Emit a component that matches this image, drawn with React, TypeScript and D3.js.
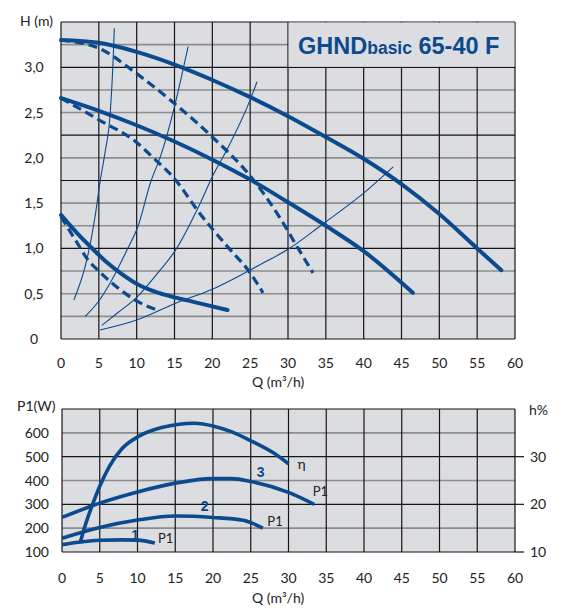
import * as d3 from 'd3';
import React, { useEffect, useRef } from 'react';

type Pt = [number, number];

// H (m) over Q (m3/h), one per speed
const speed3Solid: Pt[] = [[0, 3.3], [5, 3.27], [10, 3.17], [15, 3.03], [20, 2.86], [25, 2.67], [30, 2.46], [35, 2.23], [40, 1.99], [45, 1.71], [50, 1.38], [55, 1.0], [58.2, 0.76]];
const speed3Dashed: Pt[] = [[0, 3.3], [5, 3.21], [10, 2.93], [15, 2.6], [20, 2.23], [25, 1.8], [29, 1.33], [31.2, 1.02], [33.3, 0.73]];
const speed2Solid: Pt[] = [[0, 2.66], [5, 2.52], [10, 2.36], [15, 2.18], [20, 1.98], [25, 1.76], [30, 1.51], [35, 1.25], [40, 0.97], [46.5, 0.51]];
const speed2Dashed: Pt[] = [[0, 2.66], [5, 2.42], [10, 2.17], [12.2, 2.0], [15, 1.77], [18.4, 1.38], [22, 1.02], [25, 0.73], [26.7, 0.51]];
const speed1Solid: Pt[] = [[0, 1.37], [2, 1.18], [4, 1.01], [6, 0.85], [8, 0.72], [10, 0.61], [12.5, 0.52], [15, 0.46], [17.5, 0.41], [20, 0.36], [22, 0.32]];
const speed1Dashed: Pt[] = [[0, 1.35], [2, 1.08], [3.5, 0.88], [5, 0.75], [7, 0.6], [10, 0.42], [12.7, 0.32]];

// thin system curves
const sysA: Pt[] = [[1.7, 0.43], [3.4, 0.87], [4.5, 1.35], [5.15, 1.73], [5.8, 2.05], [6.5, 2.49], [6.85, 3.0], [7.05, 3.43]];
const sysB: Pt[] = [[3.2, 0.25], [5, 0.42], [6.9, 0.68], [8.7, 0.98], [10.2, 1.25], [11.8, 1.72], [13.2, 2.03], [15.1, 2.6], [16.8, 3.23]];
const sysC: Pt[] = [[5.4, 0.15], [7.5, 0.29], [10, 0.46], [12.5, 0.7], [15.2, 0.99], [18.4, 1.5], [20.1, 1.81], [21.8, 2.07], [25, 2.64], [25.9, 2.84]];
const sysD: Pt[] = [[5.15, 0.1], [10, 0.21], [15.3, 0.4], [20, 0.55], [26.3, 0.82], [30, 0.99], [34.6, 1.27], [40, 1.61], [43.9, 1.9]];

// P1 (W) and efficiency (%) over Q
const p1Speed3: Pt[] = [[0, 245], [5, 305], [10, 352], [15, 389], [20, 408], [22.5, 408], [25, 396], [30, 350], [33.4, 300]];
const p1Speed2: Pt[] = [[0, 158], [5, 203], [10, 234], [15, 251], [20, 245], [24, 233], [26.6, 200]];
const p1Speed1: Pt[] = [[0, 131], [2.7, 143], [5, 149], [8, 151], [10, 150], [12.3, 138]];
const eta: Pt[] = [[2.4, 11.9], [3.0, 15.2], [4.0, 19.8], [5.0, 23.8], [6.3, 28.0], [7.9, 31.6], [10.2, 34.3], [13.2, 36.1], [15.5, 36.8], [17.5, 37.0], [20.1, 36.4], [22.5, 35.2], [25.3, 33.1], [28, 30.8], [30, 28.5]];

const qTicks = d3.range(0, 61, 5);
const hGrid = d3.range(0, 3.51, 0.25);
const hDark = [0, 1, 1.75, 2.25, 3, 3.5];
const hTicks = [0, 0.5, 1, 1.5, 2, 2.5, 3];
const pGrid = d3.range(100, 701, 100);
const pDark = [100, 300, 500, 700];
const pTicks = [100, 200, 300, 400, 500, 600];
const etaTicks = [10, 20, 30];

const BLUE = '#0b4a8e';
const BG = '#dcdde0';
const FONT = 'Lato, "Open Sans", sans-serif';

export default function App(): React.JSX.Element {
	const ref = useRef<SVGSVGElement | null>(null);

	useEffect(() => {
		if (ref.current === null) return;
		const svg = d3.select(ref.current);
		svg.selectAll('*').remove();

		const fmtH = (v: number) => (v === 0 ? '0' : d3.format('.1f')(v).replace('.', ','));

		// ---- top chart ----
		const x = d3.scaleLinear().domain([0, 60]).range([61, 515]);
		const y = d3.scaleLinear().domain([0, 3.5]).range([339, 22]);

		const top = svg.append('g');
		top.append('rect').attr('x', x(0)).attr('y', y(3.5)).attr('width', x(60) - x(0)).attr('height', y(0) - y(3.5)).attr('fill', BG);

		top.selectAll('line.h').data(hGrid).enter().append('line')
			.attr('x1', x(0)).attr('x2', x(60))
			.attr('y1', d => y(d)).attr('y2', d => y(d))
			.attr('stroke', d => hDark.some(v => Math.abs(v - d) < 1e-6) ? '#151515' : '#8d8d8d')
			.attr('stroke-width', d => hDark.some(v => Math.abs(v - d) < 1e-6) ? 1.2 : 1.6);

		top.selectAll('line.v').data(qTicks).enter().append('line')
			.attr('x1', d => x(d)).attr('x2', d => x(d))
			.attr('y1', y(3.5)).attr('y2', y(0))
			.attr('stroke', '#151515').attr('stroke-width', 1.2);

		// title box
		top.append('rect').attr('x', x(30) + 0.6).attr('y', y(3.5) + 0.6)
			.attr('width', x(60) - x(30) - 1.2).attr('height', y(3) - y(3.5) - 1.2).attr('fill', BG);
		const title = top.append('text').attr('x', 298).attr('y', 54)
			.attr('fill', BLUE).attr('font-family', '"Liberation Sans", Arial, sans-serif').attr('font-weight', 'bold');
		title.append('tspan').attr('font-size', 23.5).text('GHND');
		title.append('tspan').attr('font-size', 17.5).text('basic');
		title.append('tspan').attr('font-size', 23.5).text(' 65-40 F');

		const line = d3.line<Pt>().x(d => x(d[0])).y(d => y(d[1])).curve(d3.curveMonotoneX);
		const thick = [speed3Solid, speed2Solid, speed1Solid];
		const dashed = [speed3Dashed, speed2Dashed, speed1Dashed];
		const thin = [sysA, sysB, sysC, sysD];

		top.selectAll('path.thin').data(thin).enter().append('path')
			.attr('d', d => line(d)).attr('fill', 'none').attr('stroke', BLUE).attr('stroke-width', 1.1);
		top.selectAll('path.dash').data(dashed).enter().append('path')
			.attr('d', d => line(d)).attr('fill', 'none').attr('stroke', BLUE).attr('stroke-width', 3.2)
			.attr('stroke-dasharray', '9,5');
		top.selectAll('path.thick').data(thick).enter().append('path')
			.attr('d', d => line(d)).attr('fill', 'none').attr('stroke', BLUE).attr('stroke-width', 4)
			.attr('stroke-linecap', 'round');

		top.selectAll('text.yt').data(hTicks).enter().append('text')
			.attr('x', 34).attr('y', d => y(d) + 5).attr('text-anchor', 'middle')
			.attr('font-family', FONT).attr('font-size', 14).attr('fill', '#222').text(fmtH);
		top.selectAll('text.xt').data(qTicks).enter().append('text')
			.attr('x', d => x(d)).attr('y', 368).attr('text-anchor', 'middle')
			.attr('font-family', FONT).attr('font-size', 14).attr('fill', '#222').text(d => d);
		top.append('text').attr('x', 20).attr('y', 26).attr('font-family', FONT).attr('font-size', 14).attr('fill', '#222').text('H (m)');
		top.append('text').attr('x', 252).attr('y', 387).attr('font-family', FONT).attr('font-size', 14).attr('fill', '#222').text('Q (m³/h)');

		// ---- bottom chart ----
		const xb = d3.scaleLinear().domain([0, 60]).range([62, 515]);
		const yp = d3.scaleLinear().domain([100, 700]).range([552, 409]);
		const ye = d3.scaleLinear().domain([10, 40]).range([552, 409]);

		const bot = svg.append('g');
		bot.append('rect').attr('x', xb(0)).attr('y', yp(700)).attr('width', xb(60) - xb(0)).attr('height', yp(100) - yp(700)).attr('fill', BG);
		bot.selectAll('line.h').data(pGrid).enter().append('line')
			.attr('x1', xb(0)).attr('x2', xb(60))
			.attr('y1', d => yp(d)).attr('y2', d => yp(d))
			.attr('stroke', d => pDark.includes(d) ? '#151515' : '#8d8d8d')
			.attr('stroke-width', d => pDark.includes(d) ? 1.2 : 1.6);
		bot.selectAll('line.v').data(qTicks).enter().append('line')
			.attr('x1', d => xb(d)).attr('x2', d => xb(d))
			.attr('y1', yp(700)).attr('y2', yp(100))
			.attr('stroke', '#151515').attr('stroke-width', 1.2);
		bot.selectAll('line.et').data(etaTicks).enter().append('line')
			.attr('x1', xb(60)).attr('x2', xb(60) + 9)
			.attr('y1', d => ye(d)).attr('y2', d => ye(d))
			.attr('stroke', '#151515').attr('stroke-width', 1.2);

		const pLine = d3.line<Pt>().x(d => xb(d[0])).y(d => yp(d[1])).curve(d3.curveMonotoneX);
		const eLine = d3.line<Pt>().x(d => xb(d[0])).y(d => ye(d[1])).curve(d3.curveMonotoneX);
		bot.selectAll('path.p').data([p1Speed3, p1Speed2, p1Speed1]).enter().append('path')
			.attr('d', d => pLine(d)).attr('fill', 'none').attr('stroke', BLUE).attr('stroke-width', 3.6);
		bot.append('path').attr('d', eLine(eta)).attr('fill', 'none').attr('stroke', BLUE).attr('stroke-width', 3.6);

		const curveLabels: { t: string; q: number; v: number }[] = [
			{ t: '3', q: 26.3, v: 415 },
			{ t: '2', q: 18.9, v: 270 },
			{ t: '1', q: 9.7, v: 152 },
		];
		bot.selectAll('text.num').data(curveLabels).enter().append('text')
			.attr('x', d => xb(d.q)).attr('y', d => yp(d.v)).attr('text-anchor', 'middle')
			.attr('font-family', '"Liberation Sans", Arial, sans-serif').attr('font-weight', 'bold')
			.attr('font-size', 14).attr('fill', BLUE).text(d => d.t);
		const p1Labels: { t: string; q: number; v: number }[] = [
			{ t: 'P1', q: 33.2, v: 335 },
			{ t: 'P1', q: 27.2, v: 208 },
			{ t: 'P1', q: 12.7, v: 138 },
		];
		bot.selectAll('text.p1').data(p1Labels).enter().append('text')
			.attr('x', d => xb(d.q)).attr('y', d => yp(d.v))
			.attr('font-family', FONT).attr('font-size', 13).attr('fill', '#222').text(d => d.t);
		bot.append('text').attr('x', xb(31.2)).attr('y', ye(27.4))
			.attr('font-family', FONT).attr('font-size', 14).attr('fill', '#222').text('η');

		bot.selectAll('text.yt').data(pTicks).enter().append('text')
			.attr('x', 49).attr('y', d => yp(d) + 5).attr('text-anchor', 'end')
			.attr('font-family', FONT).attr('font-size', 14).attr('fill', '#222').text(d => d);
		bot.selectAll('text.et').data(etaTicks).enter().append('text')
			.attr('x', 530).attr('y', d => ye(d) + 5)
			.attr('font-family', FONT).attr('font-size', 14).attr('fill', '#222').text(d => d);
		bot.selectAll('text.xt').data(qTicks).enter().append('text')
			.attr('x', d => xb(d)).attr('y', 583).attr('text-anchor', 'middle')
			.attr('font-family', FONT).attr('font-size', 14).attr('fill', '#222').text(d => d);
		bot.append('text').attr('x', 17).attr('y', 411).attr('font-family', FONT).attr('font-size', 14).attr('fill', '#222').text('P1(W)');
		bot.append('text').attr('x', 529).attr('y', 415).attr('font-family', FONT).attr('font-size', 14).attr('fill', '#222').text('h%');
		bot.append('text').attr('x', 252).attr('y', 603).attr('font-family', FONT).attr('font-size', 14).attr('fill', '#222').text('Q (m³/h)');
	}, []);

	return (
		<svg ref={ref} width={579} height={608} style={{ position: 'absolute', left: 0, top: 0, background: '#fff' }} />
	);
}
